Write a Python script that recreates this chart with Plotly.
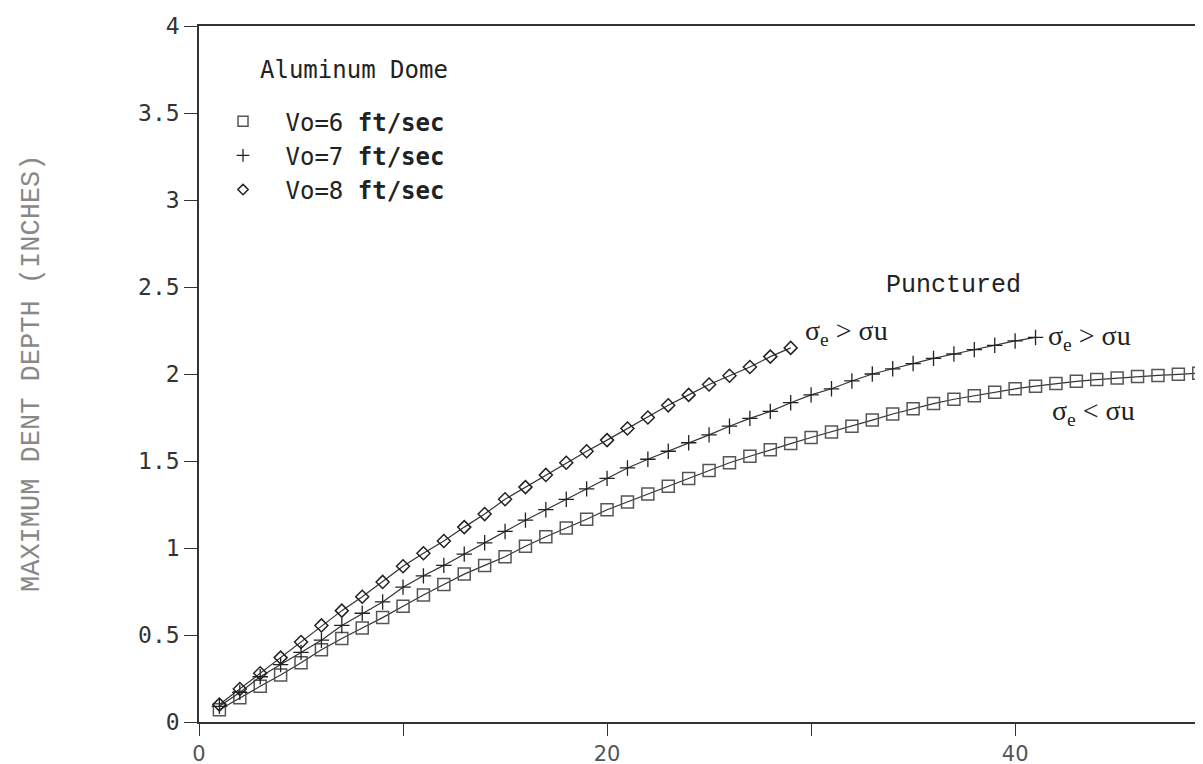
import plotly.graph_objects as go

# ---- data ----
x_sq = list(range(1, 50))
y_sq = [0.07, 0.14, 0.205, 0.27, 0.34, 0.415, 0.48, 0.54, 0.60, 0.665,
        0.73, 0.79, 0.85, 0.90, 0.95, 1.01, 1.065, 1.115, 1.165, 1.22,
        1.265, 1.31, 1.355, 1.40, 1.445, 1.49, 1.527, 1.565, 1.60, 1.635,
        1.667, 1.70, 1.735, 1.77, 1.80, 1.83, 1.855, 1.875, 1.895, 1.915,
        1.93, 1.945, 1.958, 1.968, 1.977, 1.985, 1.992, 1.998, 2.005]

x_pl = list(range(1, 42))
y_pl = [0.09, 0.17, 0.26, 0.33, 0.40, 0.47, 0.555, 0.625, 0.69, 0.775,
        0.84, 0.90, 0.965, 1.03, 1.095, 1.16, 1.22, 1.28, 1.34, 1.40,
        1.46, 1.51, 1.556, 1.605, 1.65, 1.70, 1.745, 1.785, 1.835, 1.88,
        1.915, 1.96, 2.0, 2.03, 2.06, 2.09, 2.115, 2.14, 2.165, 2.19, 2.21]

x_di = list(range(1, 30))
y_di = [0.10, 0.19, 0.28, 0.37, 0.46, 0.555, 0.64, 0.72, 0.805, 0.895,
        0.97, 1.04, 1.12, 1.195, 1.28, 1.35, 1.42, 1.49, 1.556, 1.62,
        1.687, 1.75, 1.82, 1.88, 1.94, 1.99, 2.04, 2.10, 2.15]

series_names = ["Vo=6 <b>ft/sec</b>", "Vo=7 <b>ft/sec</b>", "Vo=8 <b>ft/sec</b>"]
y_tickvals = [0, 0.5, 1, 1.5, 2, 2.5, 3, 3.5, 4]
y_ticktext = ["0", "0.5", "1", "1.5", "2", "2.5", "3", "3.5", "4"]
x_tickvals = [0, 10, 20, 30, 40]
x_ticktext = ["0", "", "20", "", "40"]

fig = go.Figure()

styles = [
    dict(x=x_sq, y=y_sq, symbol="square-open", size=12, lw=1.5, color="#555555"),
    dict(x=x_pl, y=y_pl, symbol="cross-thin-open", size=11, lw=1.3, color="#222222"),
    dict(x=x_di, y=y_di, symbol="diamond-open", size=10, lw=1.5, color="#222222"),
]
for s in styles:
    fig.add_trace(go.Scatter(
        x=s["x"], y=s["y"], mode="lines+markers", showlegend=False,
        line=dict(color="#333333", width=1.2),
        marker=dict(symbol=s["symbol"], size=s["size"], color=s["color"],
                    line=dict(width=s["lw"], color=s["color"]))))

for s, name in zip(styles, series_names):
    fig.add_trace(go.Scatter(
        x=[None], y=[None], mode="markers", name=name,
        marker=dict(symbol=s["symbol"], size=s["size"] - 2, color=s["color"],
                    line=dict(width=s["lw"], color=s["color"]))))

fig.update_layout(
    width=1203, height=764,
    margin=dict(l=191, r=0, t=18, b=50),
    paper_bgcolor="white", plot_bgcolor="white",
    showlegend=True,
    legend=dict(x=0.0015, y=0.895, xanchor="left", yanchor="top",
                bgcolor="rgba(0,0,0,0)",
                font=dict(family="DejaVu Sans Mono", size=24, color="#222222"),
                tracegroupgap=0, itemwidth=75),
    xaxis=dict(range=[0, 49.6], showgrid=False, zeroline=False,
               showline=True, linecolor="#333333", linewidth=1.5, mirror=True,
               ticks="outside", ticklen=12, tickcolor="#333333", tickwidth=1.2,
               tickvals=x_tickvals, ticktext=x_ticktext,
               tickfont=dict(family="DejaVu Sans", size=21, color="#555555")),
    yaxis=dict(range=[0, 4], showgrid=False, zeroline=False,
               showline=True, linecolor="#333333", linewidth=1.5,
               ticks="outside", ticklen=13, tickcolor="#333333", tickwidth=1.2,
               tickvals=y_tickvals, ticktext=y_ticktext,
               tickfont=dict(family="DejaVu Sans Mono", size=23, color="#333333")),
)

annos = [
    dict(x=-0.165, y=0.5, xref="paper", yref="paper",
         text="MAXIMUM DENT DEPTH (INCHES)", textangle=-90,
         xanchor="center", yanchor="middle",
         font=dict(family="Liberation Mono", size=27, color="#888888")),
    dict(x=0.058, y=0.9375, xref="paper", yref="paper", text="Aluminum Dome",
         xanchor="left", yanchor="middle",
         font=dict(family="DejaVu Sans Mono", size=24, color="#222222")),
    dict(x=37.0, y=2.51, text="Punctured", xanchor="center", yanchor="middle",
         font=dict(family="Liberation Mono", size=25, color="#222222")),
    dict(x=29.6, y=2.24, text="σ<sub>e</sub> > σu", xanchor="left", yanchor="middle",
         font=dict(family="Liberation Serif", size=28, color="#222222")),
    dict(x=41.5, y=2.21, text="σ<sub>e</sub> > σu", xanchor="left", yanchor="middle",
         font=dict(family="Liberation Serif", size=28, color="#222222")),
    dict(x=41.7, y=1.78, text="σ<sub>e</sub> < σu", xanchor="left", yanchor="middle",
         font=dict(family="Liberation Serif", size=28, color="#222222")),
]
for a in annos:
    fig.add_annotation(showarrow=False, **a)

fig.write_html("out.html")
